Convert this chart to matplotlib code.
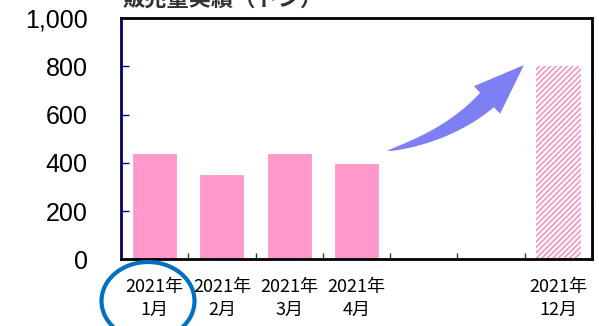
import numpy as np
import matplotlib.pyplot as plt
from matplotlib.patches import Ellipse, Polygon
from matplotlib.transforms import Affine2D

plt.rcParams['font.family'] = ['Noto Sans CJK JP', 'DejaVu Sans']
plt.rcParams['hatch.linewidth'] = 1.3
plt.rcParams['hatch.color'] = '#F29AC6'

# データ
labels = ['2021年\n1月', '2021年\n2月', '2021年\n3月', '2021年\n4月', '', '', '2021年\n12月']
actual = [440, 355, 442, 401, np.nan, np.nan, np.nan]
forecast = [np.nan, np.nan, np.nan, np.nan, np.nan, np.nan, 800]
yticks = [0, 200, 400, 600, 800, 1000]
ytick_labels = ['0', '200', '400', '600', '800', '1,000']

W, H = 599, 326
fig = plt.figure(figsize=(W / 100, H / 100), dpi=100)
ax = fig.add_axes([0.202, 0.204, 0.786, 0.741])

x = np.arange(len(labels))
ax.bar(x, actual, width=0.67, color='#FF99CC', edgecolor='white', linewidth=0.8)
ax.bar(x, forecast, width=0.67, color='white', edgecolor='#F29AC6', linewidth=0, hatch='//////')

ax.set_xlim(-0.5, len(labels) - 0.5)
ax.set_ylim(0, 1000)

# 目盛り
ax.set_yticks(yticks)
ax.set_yticklabels(ytick_labels, fontfamily='Liberation Sans', fontsize=18)
ax.tick_params(axis='y', direction='in', length=6, width=1, color='#000080', pad=24)
ax.set_xticks(x)
ax.set_xticklabels(labels, fontsize=13, linespacing=1.4)
ax.tick_params(axis='x', which='major', length=0, pad=13)
ax.set_xticks(x[:-1] + 0.5, minor=True)
ax.tick_params(axis='x', which='minor', direction='in', length=4, width=1, color='#333333')

for side in ['top', 'right', 'bottom']:
    ax.spines[side].set_linewidth(2)
    ax.spines[side].set_color('black')
ax.spines['left'].set_linewidth(2)
ax.spines['left'].set_color('#000060')

# 矢印 (画像のピクセル座標で形を作る)
px = Affine2D().scale(1 / W, -1 / H).translate(0, 1) + fig.transFigure
p0 = np.array([387.0, 151.0])
neck = np.array([487.0, 100.0])
tip = np.array([524.0, 65.0])
ctrl = np.array([449.0, 136.0])
t = np.linspace(0, 1, 40)[:, None]
curve = (1 - t) ** 2 * p0 + 2 * (1 - t) * t * ctrl + t ** 2 * neck
deriv = 2 * (1 - t) * (ctrl - p0) + 2 * t * (neck - ctrl)
normal = np.column_stack([-deriv[:, 1], deriv[:, 0]])
normal /= np.linalg.norm(normal, axis=1)[:, None]
half = 10 * t ** 0.7
upper = curve + normal * half
lower = curve - normal * half
n_end = normal[-1]
head = [neck + n_end * 19, tip, neck - n_end * 19]
pts = np.vstack([upper, head, lower[::-1]])
fig.patches.append(Polygon(pts, closed=True, transform=px, facecolor='#7F7FF5',
                           edgecolor='none'))

# 丸囲み
circle = Ellipse((148 / W, 1 - 301 / H), 93 / W, 78 / H, transform=fig.transFigure,
                 fill=False, edgecolor='#0070C0', linewidth=3)
fig.patches.append(circle)

# タイトル(上が切れている)
fig.text(0.205, 1 - 6 / H, '販売量実績（トン）', fontsize=16, fontweight='bold',
         color='#333333', ha='left', va='baseline')

fig.savefig('out.png', dpi=100)
